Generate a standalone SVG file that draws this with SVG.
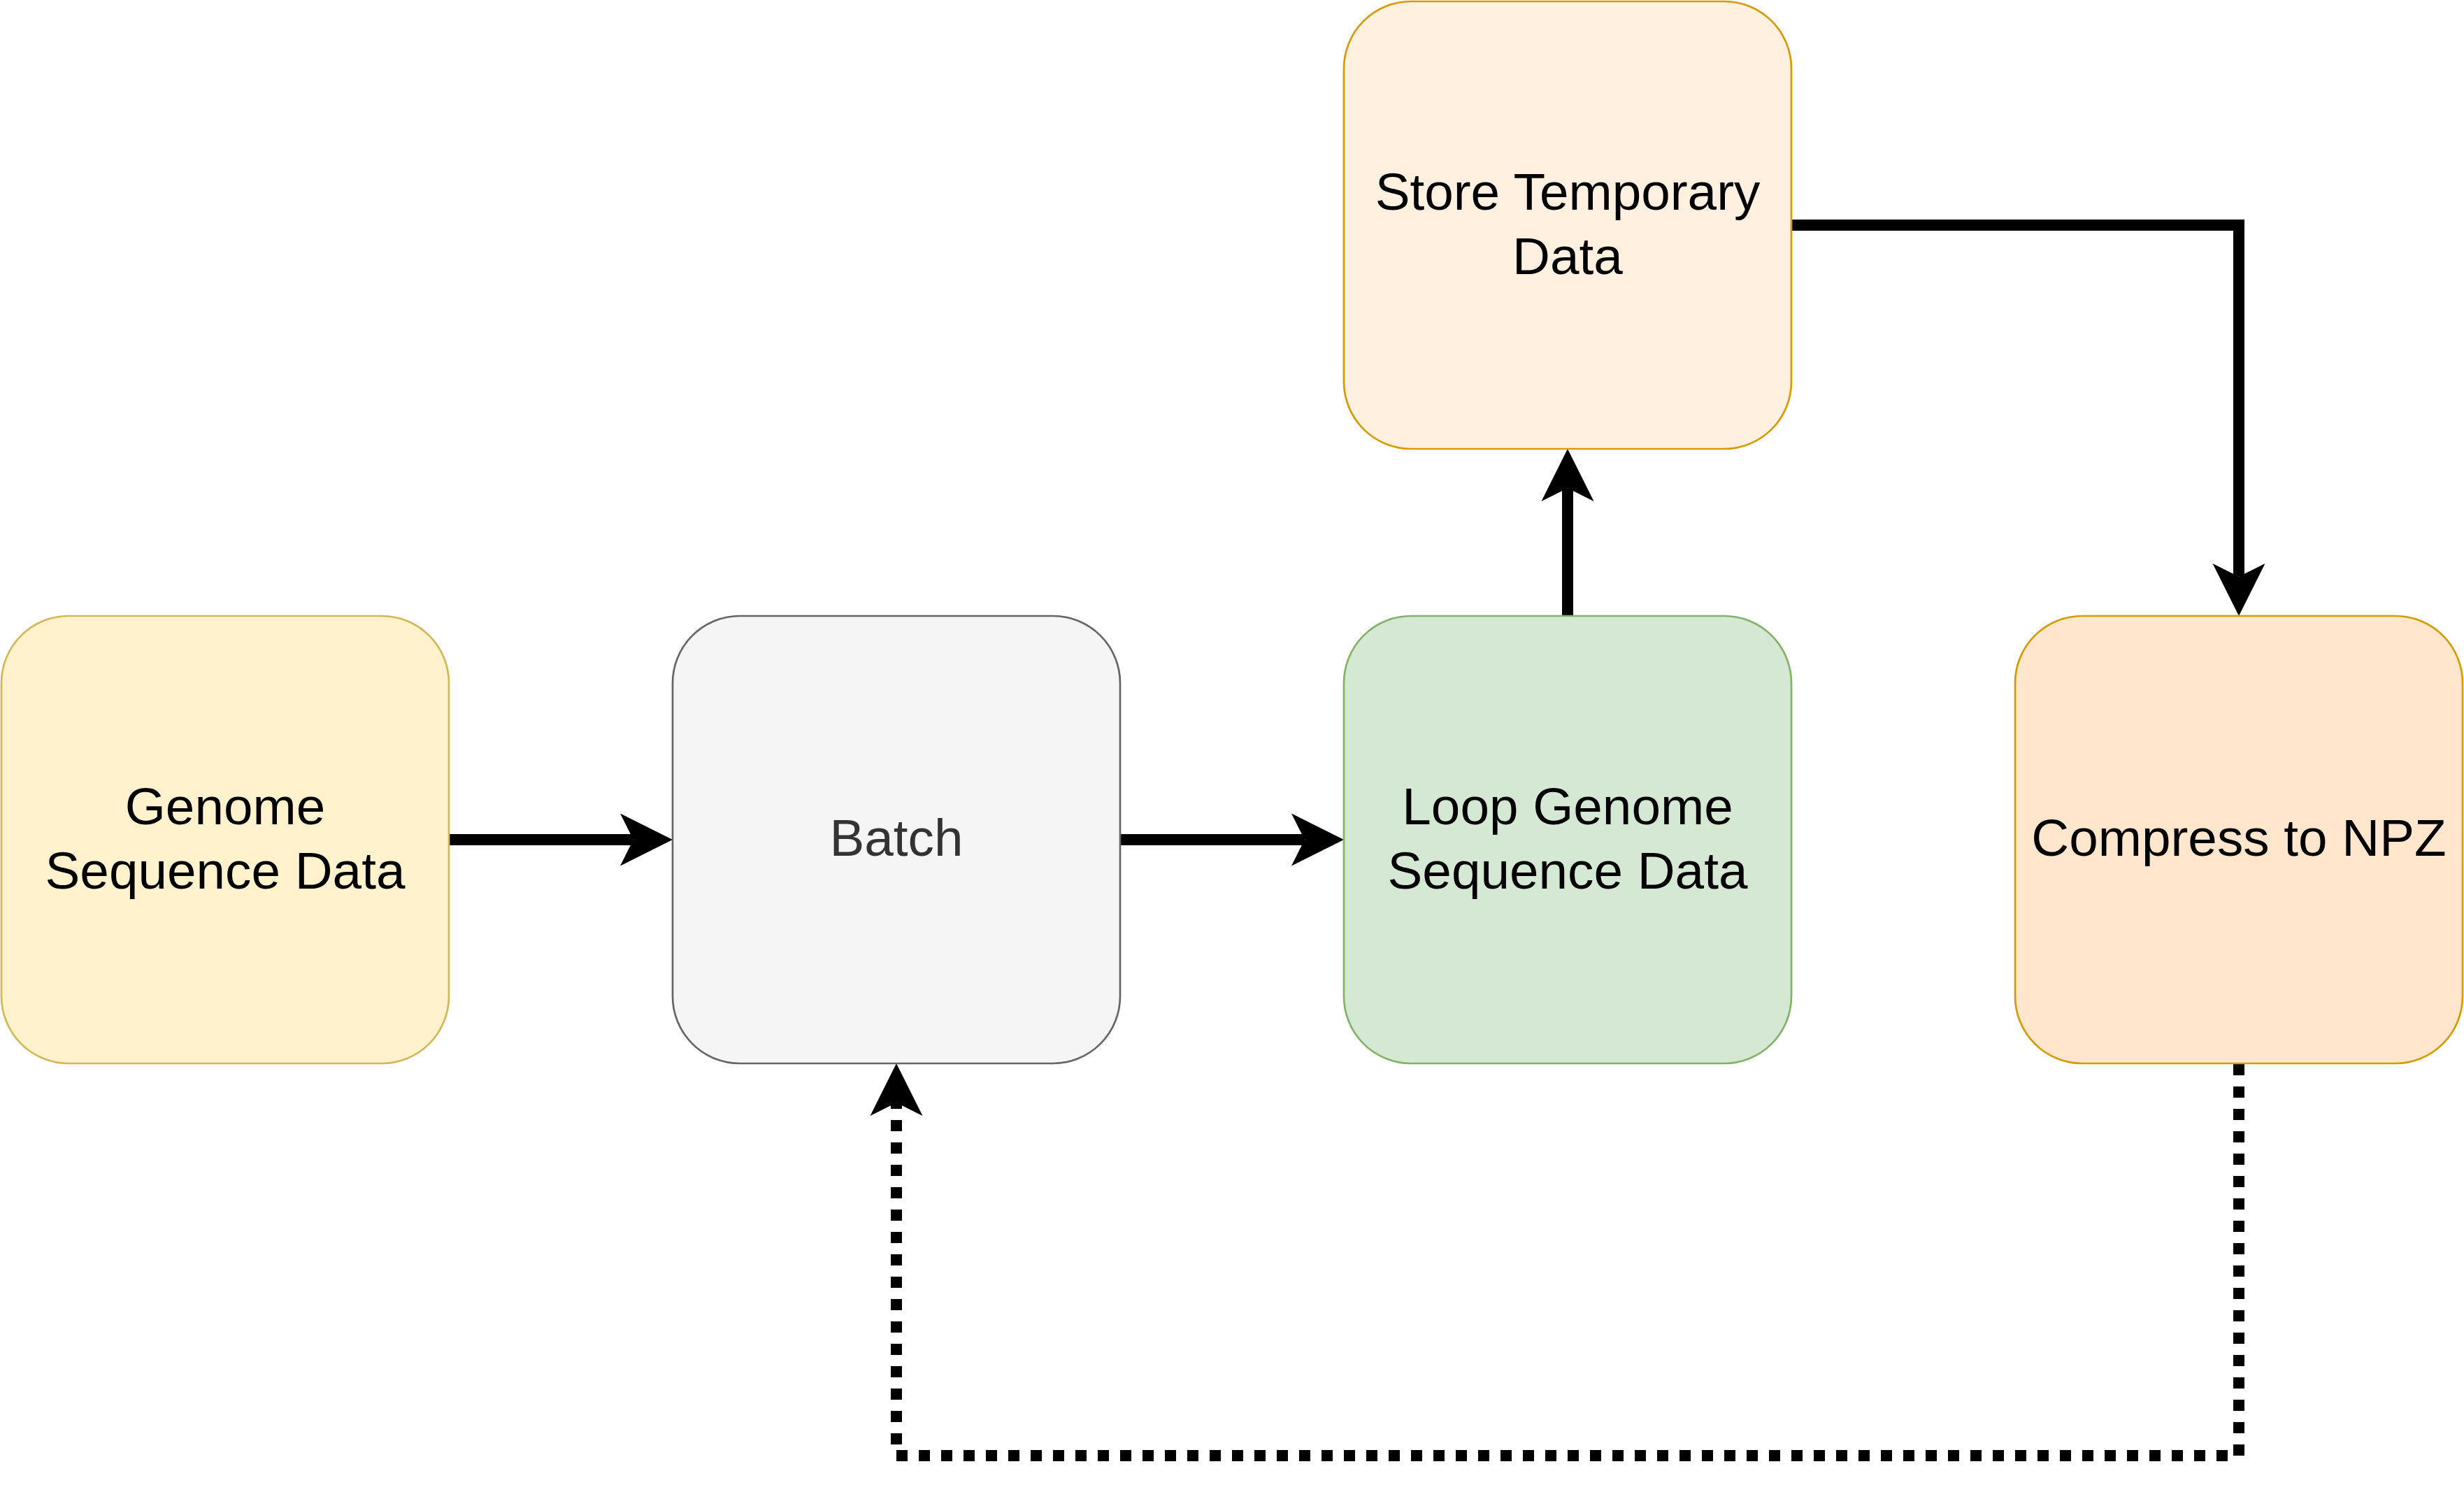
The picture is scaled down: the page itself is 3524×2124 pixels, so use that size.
<svg xmlns="http://www.w3.org/2000/svg" width="3524" height="2124" viewBox="0 0 3524 2124">
<style>
.node{stroke-width:2.7}
.lbl{font-family:"Liberation Sans",Arial,sans-serif;font-size:74.7px;text-anchor:middle;fill:#000000}
.edge{fill:none;stroke:#000000;stroke-width:16;stroke-linejoin:miter;stroke-linecap:butt}
.dotted{stroke-dasharray:16 16}
</style>
<defs>
<marker id="arrow" markerUnits="userSpaceOnUse" markerWidth="80" markerHeight="80" viewBox="-1 -40 80 80" refX="18.75" refY="0" orient="auto" overflow="visible">
<path d="M0,-37.5 L75,0 L0,37.5 L18.75,0 Z" fill="#000000"/>
</marker>
</defs>
<rect width="3524" height="2124" fill="#ffffff"/>
<g id="connectors">
<path class="edge" d="M643,1201 H905.75" marker-end="url(#arrow)"/>
<path class="edge" d="M1602,1201 H1865.75" marker-end="url(#arrow)"/>
<path class="edge" d="M2242,881 V698.25" marker-end="url(#arrow)"/>
<path class="edge" d="M2562,322 H3202 V824.75" marker-end="url(#arrow)"/>
<path class="edge dotted" d="M3202,1522 V2082 H1282 V1577.25" marker-end="url(#arrow)"/>
</g>
<g id="node-genome">
<rect class="node" x="2" y="881" width="640" height="640" rx="96" ry="96" fill="#fff2cc" stroke="#d6b656"/>
<text class="lbl" x="322" y="1179">Genome</text>
<text class="lbl" x="322" y="1271">Sequence Data</text>
</g>
<g id="node-batch">
<rect class="node" x="962" y="881" width="640" height="640" rx="96" ry="96" fill="#f5f5f5" stroke="#666666"/>
<text class="lbl" x="1282" y="1224" style="fill:#333333">Batch</text>
</g>
<g id="node-loop">
<rect class="node" x="1922" y="881" width="640" height="640" rx="96" ry="96" fill="#d5e8d4" stroke="#82b366"/>
<text class="lbl" x="2242" y="1179">Loop Genome</text>
<text class="lbl" x="2242" y="1271">Sequence Data</text>
</g>
<g id="node-store">
<rect class="node" x="1922" y="2" width="640" height="640" rx="96" ry="96" fill="#fff0e0" stroke="#d79b00"/>
<text class="lbl" x="2242" y="300">Store Temporary</text>
<text class="lbl" x="2242" y="392">Data</text>
</g>
<g id="node-compress">
<rect class="node" x="2882" y="881" width="640" height="640" rx="96" ry="96" fill="#ffe6cc" stroke="#d79b00"/>
<text class="lbl" x="3202" y="1224">Compress to NPZ</text>
</g>
</svg>
